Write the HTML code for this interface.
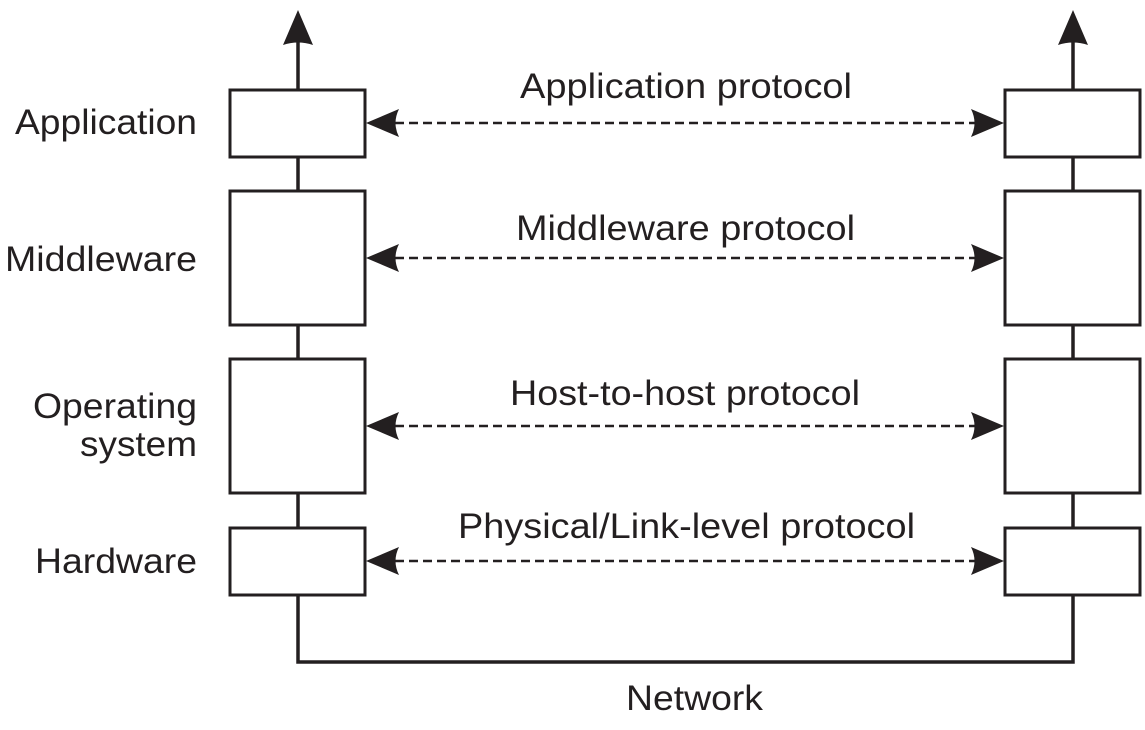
<!DOCTYPE html>
<html><head><style>body{margin:0;background:#fff}</style></head><body>
<svg width="1145" height="725" xmlns="http://www.w3.org/2000/svg" font-family="Liberation Sans, sans-serif" font-size="35" fill="#231f20">
<g stroke="#231f20" stroke-width="3.5" fill="none">
<polyline points="298,40 298,662 1073,662 1073,40"/>
</g>
<g stroke="#231f20" stroke-width="3" fill="#fff">
<rect x="230" y="90" width="135" height="67"/>
<rect x="230" y="191" width="135" height="134"/>
<rect x="230" y="359" width="135" height="134"/>
<rect x="230" y="528" width="135" height="67"/>
<rect x="1005" y="90" width="135" height="67"/>
<rect x="1005" y="191" width="135" height="134"/>
<rect x="1005" y="359" width="135" height="134"/>
<rect x="1005" y="528" width="135" height="67"/>
</g>
<path d="M298,10 L313,45 Q298,40 283,45 Z"/>
<path d="M1073,10 L1088,45 Q1073,40 1058,45 Z"/>
<g stroke="#231f20" stroke-width="2.5" stroke-dasharray="9,5">
<line x1="395" y1="123" x2="977" y2="123"/>
<line x1="395" y1="258" x2="977" y2="258"/>
<line x1="395" y1="426" x2="977" y2="426"/>
<line x1="395" y1="561" x2="977" y2="561"/>
</g>
<g>
<path d="M366,123 L399,109 Q392,123 399,137 Z"/><path d="M1004,123 L971,109 Q978,123 971,137 Z"/>
<path d="M366,258 L399,244 Q392,258 399,272 Z"/><path d="M1004,258 L971,244 Q978,258 971,272 Z"/>
<path d="M366,426 L399,412 Q392,426 399,440 Z"/><path d="M1004,426 L971,412 Q978,426 971,440 Z"/>
<path d="M366,561 L399,547 Q392,561 399,575 Z"/><path d="M1004,561 L971,547 Q978,561 971,575 Z"/>
</g>
<g lengthAdjust="spacingAndGlyphs">
<text x="15" y="134" textLength="182" lengthAdjust="spacingAndGlyphs">Application</text>
<text x="5" y="271" textLength="192" lengthAdjust="spacingAndGlyphs">Middleware</text>
<text x="33" y="418" textLength="164" lengthAdjust="spacingAndGlyphs">Operating</text>
<text x="80" y="456" textLength="117" lengthAdjust="spacingAndGlyphs">system</text>
<text x="35" y="573" textLength="162" lengthAdjust="spacingAndGlyphs">Hardware</text>
<text x="520" y="98" textLength="332" lengthAdjust="spacingAndGlyphs">Application protocol</text>
<text x="516" y="240" textLength="339" lengthAdjust="spacingAndGlyphs">Middleware protocol</text>
<text x="510" y="405" textLength="350" lengthAdjust="spacingAndGlyphs">Host-to-host protocol</text>
<text x="458" y="538" textLength="457" lengthAdjust="spacingAndGlyphs">Physical/Link-level protocol</text>
<text x="626" y="710" textLength="137" lengthAdjust="spacingAndGlyphs">Network</text>
</g>
</svg>
</body></html>
